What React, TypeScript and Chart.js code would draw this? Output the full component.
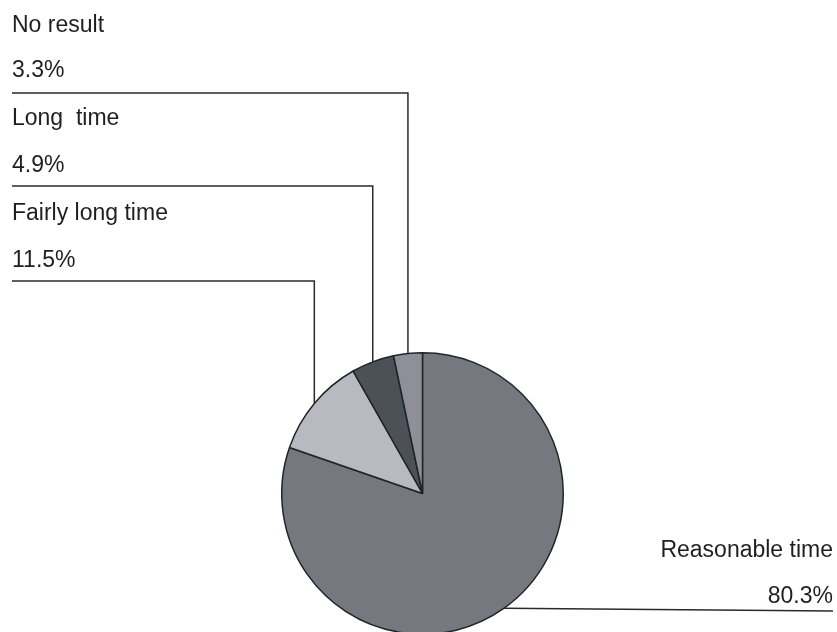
import React, { useEffect, useRef } from "react";
import { Chart, registerables } from "chart.js";

Chart.register(...registerables);

const categories = ["Reasonable time", "Fairly long time", "Long  time", "No result"];
const values = [80.3, 11.5, 4.9, 3.3];
const percentLabels = ["80.3%", "11.5%", "4.9%", "3.3%"];
const sliceColors = ["#76787f", "#b9b9c1", "#4b5157", "#8f8f9a"];

// label layout: side, text x, name baseline, percent baseline, leader y
const labelLayout = [
  { side: "right", x: 833, nameY: 557, pctY: 603, lineY: 611 },
  { side: "left", x: 12, nameY: 220, pctY: 267, lineY: 281 },
  { side: "left", x: 12, nameY: 125, pctY: 172, lineY: 186 },
  { side: "left", x: 12, nameY: 32, pctY: 77, lineY: 93 },
];

const leaderPlugin = {
  id: "leaderLabels",
  afterDatasetsDraw(chart: any) {
    const ctx = chart.ctx;
    const meta = chart.getDatasetMeta(0);
    ctx.save();
    ctx.font = "23px 'Liberation Sans', Arial, sans-serif";
    ctx.fillStyle = "#1f1f1f";
    ctx.strokeStyle = "#262b2b";
    ctx.lineWidth = 1.5;
    ctx.textBaseline = "alphabetic";
    meta.data.forEach((arc: any, i: number) => {
      const p = arc.getProps(["x", "y", "startAngle", "endAngle", "outerRadius"], true);
      const mid = (p.startAngle + p.endAngle) / 2;
      const ax = p.x + Math.cos(mid) * p.outerRadius;
      const ay = p.y + Math.sin(mid) * p.outerRadius;
      const L = labelLayout[i];
      ctx.textAlign = L.side === "left" ? "left" : "right";
      ctx.fillText(categories[i], L.x, L.nameY);
      ctx.fillText(percentLabels[i], L.x, L.pctY);
      ctx.beginPath();
      if (L.side === "left") {
        ctx.moveTo(L.x, L.lineY);
        ctx.lineTo(ax, L.lineY);
        ctx.lineTo(ax, ay);
      } else {
        ctx.moveTo(ax, ay);
        ctx.lineTo(L.x, L.lineY);
      }
      ctx.stroke();
    });
    ctx.restore();
  },
};

export default function App() {
  const ref = useRef<HTMLCanvasElement>(null);
  useEffect(() => {
    if (!ref.current) return;
    const chart = new Chart(ref.current, {
      type: "pie",
      data: {
        labels: categories,
        datasets: [
          {
            data: values,
            backgroundColor: sliceColors,
            borderColor: "#1e2626",
            borderWidth: 1.5,
          },
        ],
      },
      options: {
        animation: false,
        responsive: false,
        layout: { padding: { left: 281, right: 273, top: 352, bottom: 5 } },
        plugins: {
          legend: { display: false },
          tooltip: { enabled: false },
        },
      },
      plugins: [leaderPlugin],
    });
    return () => chart.destroy();
  }, []);
  return (
    <div style={{ position: "absolute", left: 0, top: 0, width: 837, height: 640, background: "#fff" }}>
      <canvas ref={ref} width={837} height={640} style={{ display: "block" }} />
    </div>
  );
}
